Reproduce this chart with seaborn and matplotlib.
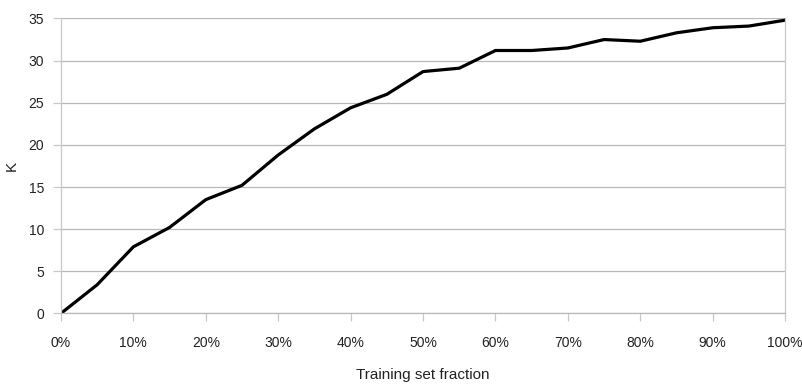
import matplotlib
matplotlib.use("Agg")
import matplotlib.pyplot as plt
import seaborn as sns
import pandas as pd
from matplotlib.ticker import FuncFormatter

# Data
fraction = [0, 5, 10, 15, 20, 25, 30, 35, 40, 45, 50,
            55, 60, 65, 70, 75, 80, 85, 90, 95, 100]
k_values = [0.0, 3.4, 7.9, 10.2, 13.5, 15.2, 18.8, 21.9, 24.4, 26.0, 28.7,
            29.1, 31.2, 31.2, 31.5, 32.5, 32.3, 33.3, 33.9, 34.1, 34.8]
x_ticks = list(range(0, 101, 10))
y_ticks = list(range(0, 36, 5))

df = pd.DataFrame({"fraction": fraction, "K": k_values})

sns.set_style("white")
plt.rcParams["font.family"] = ["Liberation Sans Narrow", "Liberation Sans", "DejaVu Sans"]

fig = plt.figure(figsize=(8.02, 3.85), dpi=100)
ax = fig.add_axes([0.076, 0.186, 0.903, 0.766])

sns.lineplot(data=df, x="fraction", y="K", color="black", linewidth=2.3, ax=ax)

ax.set_xlim(0, 100)
ax.set_ylim(0, 35)
ax.set_xticks(x_ticks)
ax.set_yticks(y_ticks)
ax.xaxis.set_major_formatter(FuncFormatter(lambda v, p: f"{int(v)}%"))
ax.yaxis.grid(True, color="#b8b8b8", linewidth=0.9)
ax.xaxis.grid(False)
ax.set_axisbelow(True)

for side in ["left", "right", "bottom"]:
    ax.spines[side].set_color("#c8c8c8")
    ax.spines[side].set_linewidth(0.9)
ax.spines["top"].set_visible(False)
ax.spines["bottom"].set_color("#b8b8b8")

ax.tick_params(axis="both", length=6, width=0.9, color="#c8c8c8",
               labelsize=10, labelcolor="#222222", bottom=True, left=True, pad=6)
ax.tick_params(axis="x", pad=10)

ax.set_xlabel("Training set fraction", fontsize=11, color="#222222", labelpad=13)
ax.set_ylabel("K", fontsize=11, color="#222222", labelpad=22)
ax.yaxis.set_label_coords(-0.058, 0.5)

fig.savefig("out.png", dpi=100)
